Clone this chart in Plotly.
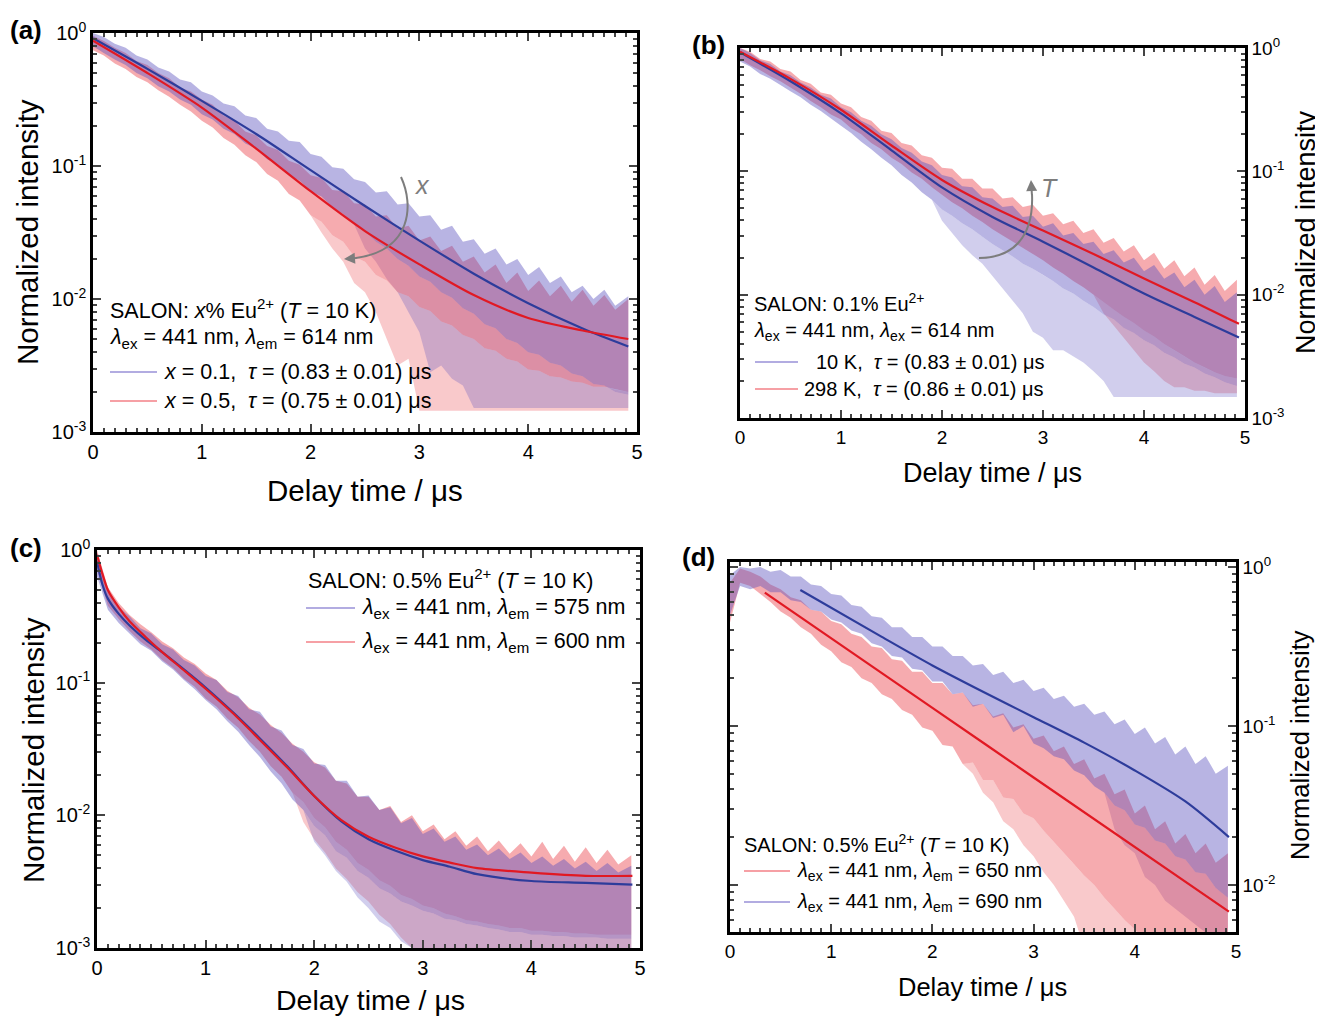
import plotly.graph_objects as go

# the page body adds an 8 px margin, so the figure is drawn 8 px smaller and
# every reference pixel position is shifted by that offset
OFF = 8
W, H = 1323 - OFF, 1018 - OFF
FONT = "Liberation Sans, Arial, sans-serif"

# ---- time grid of the measured decays (us) ----
T_GRID = [0.0, 0.1, 0.2, 0.3, 0.4, 0.5, 0.6, 0.7, 0.8, 0.9,
          1.0, 1.1, 1.2, 1.3, 1.4, 1.5, 1.6, 1.7, 1.8, 1.9,
          2.0, 2.1, 2.2, 2.3, 2.4, 2.5, 2.6, 2.7, 2.8, 2.9,
          3.0, 3.1, 3.2, 3.3, 3.4, 3.5, 3.6, 3.7, 3.8, 3.9,
          4.0, 4.1, 4.2, 4.3, 4.4, 4.5, 4.6, 4.7, 4.8, 4.92]

# noisy data, log10(intensity): upper edge (HI), lower edge of the dense part (LO),
# lower reach of the sparse spikes (SP)
# (a) x = 0.1 and x = 0.5
A_X01_HI = [0.00, -0.03, -0.08, -0.11, -0.17, -0.20, -0.26, -0.29, -0.35, -0.37,
            -0.44, -0.47, -0.53, -0.55, -0.62, -0.64, -0.72, -0.74, -0.81, -0.82,
            -0.91, -0.93, -1.01, -1.02, -1.10, -1.12, -1.20, -1.19, -1.29, -1.28,
            -1.38, -1.37, -1.48, -1.45, -1.57, -1.55, -1.66, -1.62, -1.74, -1.70,
            -1.82, -1.76, -1.88, -1.83, -1.95, -1.90, -2.00, -1.93, -2.05, -1.98]
A_X01_LO = [-0.10, -0.15, -0.20, -0.24, -0.30, -0.34, -0.40, -0.44, -0.50, -0.54,
            -0.61, -0.65, -0.72, -0.76, -0.83, -0.87, -0.95, -0.99, -1.07, -1.11,
            -1.19, -1.23, -1.31, -1.36, -1.44, -1.49, -1.57, -1.62, -1.70, -1.75,
            -1.83, -1.87, -1.95, -1.99, -2.07, -2.11, -2.19, -2.22, -2.30, -2.33,
            -2.40, -2.42, -2.48, -2.50, -2.56, -2.58, -2.64, -2.65, -2.70, -2.72]
A_X01_SP = [-0.10, -0.15, -0.20, -0.24, -0.30, -0.34, -0.40, -0.44, -0.50, -0.54,
            -0.61, -0.65, -0.72, -0.76, -0.83, -0.87, -0.95, -0.99, -1.07, -1.11,
            -1.19, -1.23, -1.31, -1.36, -1.44, -1.62, -1.72, -1.85, -1.95, -2.10,
            -2.25, -2.55, -2.50, -2.60, -2.65, -2.82, -2.82, -2.82, -2.82, -2.82,
            -2.82, -2.82, -2.82, -2.82, -2.82, -2.82, -2.82, -2.82, -2.82, -2.82]
A_X05_HI = [-0.02, -0.06, -0.11, -0.15, -0.21, -0.24, -0.30, -0.34, -0.41, -0.44,
            -0.50, -0.54, -0.62, -0.66, -0.74, -0.77, -0.85, -0.88, -0.96, -0.99,
            -1.07, -1.09, -1.18, -1.19, -1.28, -1.29, -1.38, -1.37, -1.47, -1.45,
            -1.56, -1.53, -1.64, -1.60, -1.72, -1.68, -1.80, -1.74, -1.88, -1.80,
            -1.94, -1.86, -1.98, -1.90, -2.02, -1.93, -2.05, -1.97, -2.08, -2.00]
A_X05_LO = [-0.13, -0.17, -0.23, -0.27, -0.33, -0.37, -0.43, -0.48, -0.54, -0.59,
            -0.66, -0.71, -0.79, -0.84, -0.92, -0.97, -1.06, -1.11, -1.21, -1.26,
            -1.37, -1.42, -1.52, -1.57, -1.68, -1.72, -1.82, -1.86, -1.95, -1.98,
            -2.06, -2.09, -2.17, -2.20, -2.27, -2.30, -2.37, -2.39, -2.45, -2.47,
            -2.53, -2.54, -2.58, -2.59, -2.62, -2.63, -2.66, -2.66, -2.68, -2.70]
A_X05_SP = [-0.13, -0.17, -0.23, -0.27, -0.33, -0.37, -0.43, -0.48, -0.54, -0.59,
            -0.66, -0.71, -0.79, -0.84, -0.92, -0.97, -1.06, -1.11, -1.21, -1.26,
            -1.37, -1.50, -1.62, -1.72, -1.88, -1.95, -2.10, -2.30, -2.50, -2.45,
            -2.84, -2.84, -2.84, -2.84, -2.84, -2.84, -2.84, -2.84, -2.84, -2.84,
            -2.84, -2.84, -2.84, -2.84, -2.84, -2.84, -2.84, -2.84, -2.84, -2.84]

# (b) 10 K and 298 K
B_10K_HI = [0.00, -0.04, -0.10, -0.13, -0.19, -0.22, -0.28, -0.32, -0.38, -0.41,
            -0.48, -0.52, -0.59, -0.63, -0.70, -0.74, -0.81, -0.85, -0.92, -0.95,
            -1.03, -1.05, -1.12, -1.13, -1.21, -1.22, -1.29, -1.28, -1.37, -1.36,
            -1.45, -1.42, -1.52, -1.50, -1.59, -1.57, -1.67, -1.64, -1.74, -1.70,
            -1.81, -1.76, -1.87, -1.82, -1.94, -1.88, -2.00, -1.93, -2.06, -1.98]
B_10K_LO = [-0.11, -0.15, -0.21, -0.25, -0.30, -0.35, -0.40, -0.46, -0.51, -0.57,
            -0.63, -0.69, -0.76, -0.82, -0.89, -0.95, -1.03, -1.09, -1.17, -1.23,
            -1.31, -1.36, -1.42, -1.47, -1.53, -1.59, -1.64, -1.69, -1.75, -1.79,
            -1.84, -1.89, -1.95, -1.99, -2.05, -2.10, -2.16, -2.20, -2.27, -2.31,
            -2.37, -2.41, -2.47, -2.51, -2.56, -2.59, -2.64, -2.67, -2.71, -2.74]
B_10K_SP = [-0.11, -0.15, -0.21, -0.25, -0.30, -0.35, -0.40, -0.46, -0.51, -0.57,
            -0.63, -0.69, -0.76, -0.82, -0.89, -0.95, -1.03, -1.09, -1.17, -1.23,
            -1.40, -1.50, -1.60, -1.68, -1.75, -1.85, -1.95, -2.05, -2.15, -2.30,
            -2.35, -2.45, -2.45, -2.50, -2.55, -2.62, -2.70, -2.83, -2.83, -2.83,
            -2.83, -2.83, -2.83, -2.83, -2.83, -2.83, -2.83, -2.83, -2.83, -2.83]
B_298K_HI = [0.00, -0.03, -0.09, -0.11, -0.17, -0.19, -0.26, -0.29, -0.36, -0.38,
             -0.45, -0.48, -0.56, -0.59, -0.67, -0.69, -0.77, -0.79, -0.87, -0.89,
             -0.97, -0.98, -1.06, -1.06, -1.14, -1.14, -1.22, -1.21, -1.29, -1.27,
             -1.36, -1.34, -1.43, -1.40, -1.50, -1.47, -1.58, -1.54, -1.65, -1.60,
             -1.72, -1.66, -1.79, -1.72, -1.85, -1.78, -1.92, -1.84, -1.97, -1.88]
B_298K_LO = [-0.09, -0.14, -0.18, -0.23, -0.27, -0.32, -0.37, -0.43, -0.48, -0.54,
             -0.58, -0.65, -0.70, -0.77, -0.82, -0.89, -0.94, -1.01, -1.06, -1.13,
             -1.19, -1.25, -1.30, -1.36, -1.41, -1.47, -1.52, -1.57, -1.62, -1.67,
             -1.72, -1.78, -1.83, -1.89, -1.94, -2.00, -2.06, -2.12, -2.18, -2.23,
             -2.29, -2.34, -2.40, -2.45, -2.50, -2.55, -2.59, -2.63, -2.66, -2.68]
B_298K_SP = [-0.09, -0.14, -0.18, -0.23, -0.27, -0.32, -0.37, -0.43, -0.48, -0.54,
             -0.58, -0.65, -0.70, -0.77, -0.82, -0.89, -0.94, -1.01, -1.06, -1.13,
             -1.19, -1.25, -1.30, -1.36, -1.41, -1.47, -1.52, -1.57, -1.62, -1.67,
             -1.72, -1.78, -1.83, -1.89, -1.94, -2.00, -2.15, -2.25, -2.35, -2.45,
             -2.55, -2.62, -2.70, -2.75, -2.75, -2.78, -2.78, -2.80, -2.80, -2.80]

# (c) em 575 nm and 600 nm
C_575_HI = [-0.02, -0.30, -0.43, -0.50, -0.59, -0.63, -0.71, -0.75, -0.83, -0.87,
            -0.95, -0.98, -1.07, -1.10, -1.20, -1.22, -1.33, -1.36, -1.47, -1.50,
            -1.61, -1.62, -1.74, -1.74, -1.86, -1.85, -1.96, -1.94, -2.06, -2.02,
            -2.14, -2.10, -2.20, -2.16, -2.26, -2.22, -2.30, -2.25, -2.33, -2.28,
            -2.36, -2.31, -2.38, -2.33, -2.40, -2.35, -2.42, -2.36, -2.43, -2.38]
C_575_LO = [-0.20, -0.45, -0.55, -0.63, -0.71, -0.76, -0.84, -0.90, -0.98, -1.05,
            -1.13, -1.20, -1.29, -1.37, -1.47, -1.56, -1.67, -1.76, -1.88, -1.96,
            -2.08, -2.15, -2.27, -2.32, -2.42, -2.47, -2.55, -2.59, -2.65, -2.68,
            -2.72, -2.74, -2.78, -2.79, -2.82, -2.83, -2.85, -2.86, -2.88, -2.88,
            -2.90, -2.90, -2.91, -2.91, -2.92, -2.92, -2.92, -2.93, -2.93, -2.93]
C_575_SP = [-0.20, -0.45, -0.55, -0.63, -0.71, -0.76, -0.84, -0.90, -0.98, -1.05,
            -1.13, -1.20, -1.29, -1.37, -1.47, -1.56, -1.67, -1.76, -1.88, -1.96,
            -2.20, -2.30, -2.42, -2.50, -2.62, -2.70, -2.80, -2.85, -2.95, -3.00,
            -3.10, -3.10, -3.10, -3.10, -3.10, -3.10, -3.10, -3.10, -3.10, -3.10,
            -3.10, -3.10, -3.10, -3.10, -3.10, -3.10, -3.10, -3.10, -3.10, -3.10]
C_600_HI = [0.00, -0.28, -0.40, -0.49, -0.56, -0.62, -0.69, -0.74, -0.81, -0.86,
            -0.93, -0.98, -1.06, -1.11, -1.19, -1.24, -1.32, -1.38, -1.46, -1.52,
            -1.60, -1.64, -1.74, -1.76, -1.86, -1.86, -1.96, -1.93, -2.05, -2.00,
            -2.12, -2.07, -2.18, -2.12, -2.23, -2.16, -2.27, -2.19, -2.29, -2.21,
            -2.31, -2.20, -2.33, -2.23, -2.35, -2.24, -2.36, -2.26, -2.37, -2.30]
C_600_LO = [-0.15, -0.42, -0.52, -0.61, -0.69, -0.75, -0.83, -0.89, -0.97, -1.03,
            -1.12, -1.18, -1.27, -1.34, -1.44, -1.52, -1.63, -1.71, -1.83, -1.90,
            -2.02, -2.09, -2.20, -2.26, -2.36, -2.41, -2.49, -2.53, -2.60, -2.63,
            -2.68, -2.70, -2.74, -2.76, -2.79, -2.80, -2.82, -2.83, -2.85, -2.85,
            -2.87, -2.87, -2.88, -2.88, -2.89, -2.89, -2.90, -2.90, -2.90, -2.90]
C_600_SP = [-0.15, -0.42, -0.52, -0.61, -0.69, -0.75, -0.83, -0.89, -0.97, -1.03,
            -1.12, -1.18, -1.27, -1.34, -1.44, -1.52, -1.63, -1.71, -1.83, -2.05,
            -2.18, -2.28, -2.40, -2.48, -2.58, -2.65, -2.75, -2.82, -2.92, -3.00,
            -3.10, -3.10, -3.10, -3.10, -3.10, -3.10, -3.10, -3.10, -3.10, -3.10,
            -3.10, -3.10, -3.10, -3.10, -3.10, -3.10, -3.10, -3.10, -3.10, -3.10]

# (d) em 650 nm and 690 nm
D_650_HI = [-0.10, -0.01, -0.03, -0.06, -0.11, -0.14, -0.19, -0.21, -0.27, -0.28,
            -0.34, -0.36, -0.42, -0.44, -0.50, -0.51, -0.58, -0.59, -0.66, -0.66,
            -0.73, -0.73, -0.80, -0.79, -0.87, -0.86, -0.94, -0.92, -1.01, -0.99,
            -1.08, -1.06, -1.16, -1.13, -1.24, -1.21, -1.33, -1.30, -1.43, -1.40,
            -1.55, -1.50, -1.65, -1.60, -1.74, -1.68, -1.80, -1.74, -1.86, -1.80]
D_650_LO = [-0.35, -0.10, -0.12, -0.17, -0.22, -0.28, -0.32, -0.38, -0.42, -0.49,
            -0.53, -0.60, -0.63, -0.70, -0.73, -0.80, -0.83, -0.90, -0.93, -1.01,
            -1.03, -1.12, -1.13, -1.24, -1.23, -1.34, -1.34, -1.45, -1.46, -1.55,
            -1.58, -1.66, -1.73, -1.80, -1.87, -1.94, -2.00, -2.08, -2.15, -2.22,
            -2.28, -2.34, -2.40, -2.40, -2.40, -2.40, -2.40, -2.40, -2.40, -2.40]
D_650_SP = [-0.35, -0.10, -0.12, -0.17, -0.22, -0.28, -0.32, -0.38, -0.42, -0.49,
            -0.53, -0.60, -0.63, -0.70, -0.73, -0.80, -0.83, -0.90, -0.93, -1.01,
            -1.03, -1.12, -1.13, -1.24, -1.30, -1.42, -1.48, -1.60, -1.65, -1.75,
            -1.82, -1.92, -2.00, -2.10, -2.20, -2.40, -2.40, -2.40, -2.40, -2.40,
            -2.40, -2.40, -2.40, -2.40, -2.40, -2.40, -2.40, -2.40, -2.40, -2.40]
D_690_HI = [-0.05, 0.00, -0.01, 0.00, -0.03, -0.02, -0.06, -0.06, -0.11, -0.12,
            -0.17, -0.18, -0.24, -0.25, -0.31, -0.32, -0.38, -0.38, -0.44, -0.44,
            -0.50, -0.50, -0.56, -0.56, -0.62, -0.61, -0.68, -0.66, -0.73, -0.71,
            -0.78, -0.76, -0.83, -0.81, -0.88, -0.86, -0.93, -0.91, -0.99, -0.96,
            -1.05, -1.01, -1.11, -1.07, -1.18, -1.13, -1.24, -1.19, -1.30, -1.25]
D_690_LO = [-0.30, -0.12, -0.14, -0.12, -0.16, -0.16, -0.21, -0.22, -0.27, -0.28,
            -0.33, -0.35, -0.40, -0.42, -0.48, -0.50, -0.56, -0.57, -0.64, -0.65,
            -0.72, -0.72, -0.80, -0.79, -0.88, -0.86, -0.95, -0.93, -1.04, -1.00,
            -1.11, -1.14, -1.19, -1.21, -1.28, -1.31, -1.38, -1.42, -1.50, -1.53,
            -1.62, -1.64, -1.72, -1.74, -1.82, -1.84, -1.92, -1.93, -2.02, -2.08]
D_690_SP = [-0.30, -0.12, -0.14, -0.12, -0.16, -0.16, -0.21, -0.22, -0.27, -0.28,
            -0.33, -0.35, -0.40, -0.42, -0.48, -0.50, -0.56, -0.57, -0.64, -0.65,
            -0.72, -0.72, -0.80, -0.79, -0.88, -0.86, -0.95, -0.93, -1.04, -1.00,
            -1.11, -1.14, -1.19, -1.21, -1.28, -1.31, -1.38, -1.42, -1.65, -1.75,
            -1.80, -1.95, -2.00, -2.10, -2.15, -2.20, -2.25, -2.30, -2.35, -2.40]

# ---- fitted curves (normalized intensity) ----
A_FIT_T = [0, 0.5, 1, 1.5, 2, 2.5, 3, 3.5, 4, 4.5, 4.92]
A_FIT_X01 = [0.912, 0.537, 0.309, 0.174, 0.093, 0.050, 0.0275, 0.0155, 0.0093, 0.0060, 0.0044]
A_FIT_X05 = [0.875, 0.50, 0.275, 0.135, 0.0646, 0.0324, 0.0182, 0.0107, 0.0072, 0.0058, 0.0050]

B_FIT_T = [0, 0.5, 1, 1.5, 2, 2.5, 3, 3.5, 4, 4.5, 4.94]
B_FIT_10K = [0.923, 0.537, 0.295, 0.148, 0.0741, 0.0427, 0.0269, 0.0166, 0.0102, 0.0066, 0.0045]
B_FIT_298K = [0.933, 0.562, 0.316, 0.162, 0.0851, 0.0513, 0.0331, 0.0214, 0.0135, 0.0087, 0.0058]

C_FIT_T = [0, 0.05, 0.1, 0.2, 0.3, 0.45, 0.6, 0.8, 1.0, 1.25, 1.5, 1.75, 2.0, 2.25,
           2.5, 2.75, 3.0, 3.25, 3.5, 4.0, 4.5, 4.93]
C_FIT_575 = [0.82, 0.55, 0.43, 0.33, 0.27, 0.21, 0.17, 0.126, 0.092, 0.060, 0.038, 0.0235,
             0.0140, 0.0090, 0.0066, 0.0054, 0.0046, 0.0041, 0.0036, 0.0032, 0.0031, 0.0030]
C_FIT_600 = [0.92, 0.66, 0.50, 0.37, 0.29, 0.22, 0.17, 0.124, 0.090, 0.059, 0.037, 0.023,
             0.0140, 0.0092, 0.0069, 0.0057, 0.0049, 0.0044, 0.0040, 0.0037, 0.0035, 0.0035]

D_FIT_650_T = [0.344, 2.0, 3.0, 4.93]
D_FIT_650 = [0.69, 0.130, 0.0474, 0.0068]
D_FIT_690_T = [0.695, 1.5, 2.0, 2.5, 3.0, 3.5, 4.0, 4.5, 4.93]
D_FIT_690 = [0.716, 0.363, 0.240, 0.164, 0.1135, 0.0785, 0.0525, 0.0335, 0.020]

# colours
BLUE_FILL = "rgba(90,80,190,0.43)"
RED_FILL = "rgba(235,60,70,0.43)"
BLUE_SPIKE = "rgba(90,80,190,0.28)"
RED_SPIKE = "rgba(235,60,70,0.28)"
BLUE_FIT = "rgb(45,60,155)"
RED_FIT = "rgb(225,25,35)"
BLUE_KEY = "rgb(178,172,225)"
RED_KEY = "rgb(246,160,165)"
GREY = "rgb(125,125,125)"


def fx(p):
    return (p - OFF) / W


def fy(p):
    return 1 - (p - OFF) / H


# frame boxes in reference pixels: left, right, top, bottom
PANELS = [
    dict(box=(93, 637, 33, 432), yr=(-3, 0), side="left", tick=20),
    dict(box=(740, 1245, 48, 418), yr=(-3, 0), side="right", tick=19),
    dict(box=(97, 640, 550, 948), yr=(-3, 0), side="left", tick=20),
    dict(box=(730, 1236, 562, 932), yr=(-2.296, 0.031), side="right", tick=19),
]

MINOR_Y = [m * 10.0 ** e for e in (-4, -3, -2, -1) for m in range(2, 10)]

fig = go.Figure()


def ax_names(i):
    return ("x" if i == 0 else f"x{i+1}"), ("y" if i == 0 else f"y{i+1}")


def add_band(i, hi, lo, fill):
    xa, ya = ax_names(i)
    xs = T_GRID + T_GRID[::-1]
    ys = [10 ** v for v in hi] + [10 ** v for v in lo][::-1]
    fig.add_trace(go.Scatter(x=xs, y=ys, mode="lines", fill="toself", fillcolor=fill,
                             line=dict(width=0, color="rgba(0,0,0,0)"),
                             hoverinfo="skip", showlegend=False, xaxis=xa, yaxis=ya))


def add_fit(i, t, v, color):
    xa, ya = ax_names(i)
    fig.add_trace(go.Scatter(x=t, y=v, mode="lines",
                             line=dict(color=color, width=2.2, shape="spline", smoothing=0.8),
                             hoverinfo="skip", showlegend=False, xaxis=xa, yaxis=ya))


def add_panel(i, red, blue, fits):
    # sparse spikes (below the dense part), dense part, then the fits
    add_band(i, red[1], red[2], RED_SPIKE)
    add_band(i, blue[1], blue[2], BLUE_SPIKE)
    add_band(i, red[0], red[1], RED_FILL)
    add_band(i, blue[0], blue[1], BLUE_FILL)
    for t, v, c in fits:
        add_fit(i, t, v, c)


add_panel(0, (A_X05_HI, A_X05_LO, A_X05_SP), (A_X01_HI, A_X01_LO, A_X01_SP),
          [(A_FIT_T, A_FIT_X01, BLUE_FIT), (A_FIT_T, A_FIT_X05, RED_FIT)])
add_panel(1, (B_298K_HI, B_298K_LO, B_298K_SP), (B_10K_HI, B_10K_LO, B_10K_SP),
          [(B_FIT_T, B_FIT_10K, BLUE_FIT), (B_FIT_T, B_FIT_298K, RED_FIT)])
add_panel(2, (C_600_HI, C_600_LO, C_600_SP), (C_575_HI, C_575_LO, C_575_SP),
          [(C_FIT_T, C_FIT_575, BLUE_FIT), (C_FIT_T, C_FIT_600, RED_FIT)])
add_panel(3, (D_650_HI, D_650_LO, D_650_SP), (D_690_HI, D_690_LO, D_690_SP),
          [(D_FIT_690_T, D_FIT_690, BLUE_FIT), (D_FIT_650_T, D_FIT_650, RED_FIT)])

layout = dict(width=W, height=H, margin=dict(l=0, r=0, t=0, b=0),
              paper_bgcolor="white", plot_bgcolor="white", showlegend=False,
              font=dict(family=FONT, color="black"))

for i, p in enumerate(PANELS):
    l, r, t, b = p["box"]
    xa, ya = ax_names(i)
    xkey = "xaxis" if i == 0 else f"xaxis{i+1}"
    ykey = "yaxis" if i == 0 else f"yaxis{i+1}"
    common = dict(ticks="inside", ticklen=8, tickwidth=2, showline=True, linewidth=2.5,
                  linecolor="black", mirror="allticks", showgrid=False, zeroline=False,
                  automargin=False,
                  tickfont=dict(size=p["tick"], family=FONT, color="black"))
    layout[xkey] = dict(domain=[fx(l), fx(r)], anchor=ya, range=[0, 5],
                        tickvals=[0, 1, 2, 3, 4, 5],
                        minor=dict(dtick=0.1, tick0=0, ticks="inside", ticklen=4,
                                   tickwidth=1.5, showgrid=False),
                        **common)
    if p["yr"][0] < -2.5:
        tv = [0.001, 0.01, 0.1, 1]
        tt = ["10<sup>-3</sup>", "10<sup>-2</sup>", "10<sup>-1</sup>", "10<sup>0</sup>"]
    else:
        tv = [0.01, 0.1, 1]
        tt = ["10<sup>-2</sup>", "10<sup>-1</sup>", "10<sup>0</sup>"]
    layout[ykey] = dict(domain=[fy(b), fy(t)], anchor=xa, type="log", range=list(p["yr"]),
                        tickvals=tv, ticktext=tt, side=p["side"],
                        minor=dict(tickmode="array", tickvals=MINOR_Y, ticks="inside",
                                   ticklen=4, tickwidth=1.5, showgrid=False),
                        **common)

ann = []
shapes = []


def text(x, y, s, size=20, anchor="left", color="black", angle=0):
    ann.append(dict(x=fx(x), y=fy(y), xref="paper", yref="paper", text=s, showarrow=False,
                    xanchor=anchor, yanchor="middle", textangle=angle,
                    font=dict(size=size, family=FONT, color=color)))


def key(x0, x1, y, color):
    shapes.append(dict(type="line", xref="paper", yref="paper", x0=fx(x0), x1=fx(x1),
                       y0=fy(y), y1=fy(y), line=dict(color=color, width=2)))


LAM = "<i>\u03bb</i>"
TAU = "<i>\u03c4</i>"

# panel letters
text(8, 30, "<b>(a)</b>", 26)
text(690, 45, "<b>(b)</b>", 26)
text(8, 548, "<b>(c)</b>", 26)
text(680, 557, "<b>(d)</b>", 26)

# axis titles
text(365, 490, "Delay time / \u03bcs", 29.5, "center")
text(28, 232, "Normalized intensity", 29.5, "center", angle=-90)
text(992, 473, "Delay time / \u03bcs", 27, "center")
text(1306, 232, "Normalized intensity", 27, "center", angle=-90)
text(370, 1000, "Delay time / \u03bcs", 28.5, "center")
text(33, 750, "Normalized intensity", 29.5, "center", angle=-90)
text(982, 987, "Delay time / \u03bcs", 25.5, "center")
text(1300, 745, "Normalized intensity", 25.5, "center", angle=-90)

# (a) legend
text(108, 309, "SALON: <i>x</i>% Eu<sup>2+</sup> (<i>T</i> = 10 K)", 21.5)
text(108, 338, f"{LAM}<sub>ex</sub> = 441 nm, {LAM}<sub>em</sub> = 614 nm", 21.5)
key(110, 157, 372, BLUE_KEY)
text(162, 372, f"<i>x</i> = 0.1,  {TAU} = (0.83 \u00b1 0.01) \u03bcs", 21.5)
key(110, 157, 401, RED_KEY)
text(162, 401, f"<i>x</i> = 0.5,  {TAU} = (0.75 \u00b1 0.01) \u03bcs", 21.5)

# (b) legend
text(752, 302, "SALON: 0.1% Eu<sup>2+</sup>", 20)
text(752, 331, f"{LAM}<sub>ex</sub> = 441 nm, {LAM}<sub>ex</sub> = 614 nm", 20)
key(755, 798, 362, BLUE_KEY)
text(814, 362, f"10 K,  {TAU} = (0.83 \u00b1 0.01) \u03bcs", 20)
key(755, 798, 389, RED_KEY)
text(802, 389, f"298 K,  {TAU} = (0.86 \u00b1 0.01) \u03bcs", 20)

# (c) legend
text(306, 579, "SALON: 0.5% Eu<sup>2+</sup> (<i>T</i> = 10 K)", 21.5)
key(306, 355, 608, BLUE_KEY)
text(360, 608, f"{LAM}<sub>ex</sub> = 441 nm, {LAM}<sub>em</sub> = 575 nm", 21.5)
key(306, 355, 642, RED_KEY)
text(360, 642, f"{LAM}<sub>ex</sub> = 441 nm, {LAM}<sub>em</sub> = 600 nm", 21.5)

# (d) legend
text(742, 843, "SALON: 0.5% Eu<sup>2+</sup> (<i>T</i> = 10 K)", 20)
key(744, 790, 871, RED_KEY)
text(795, 871, f"{LAM}<sub>ex</sub> = 441 nm, {LAM}<sub>em</sub> = 650 nm", 20)
key(744, 790, 902, BLUE_KEY)
text(795, 902, f"{LAM}<sub>ex</sub> = 441 nm, {LAM}<sub>em</sub> = 690 nm", 20)

# trend arrows
shapes.append(dict(type="path", xref="paper", yref="paper",
                   path=f"M {fx(401)},{fy(177)} C {fx(414)},{fy(205)} {fx(412)},{fy(250)} {fx(356)},{fy(258)}",
                   line=dict(color=GREY, width=2)))
ann.append(dict(x=fx(344), y=fy(259), xref="paper", yref="paper", text="", showarrow=True,
                ax=14, ay=-1, arrowhead=2, arrowsize=1.1, arrowwidth=2, arrowcolor=GREY))
text(422, 185, "<i>x</i>", 25, "center", GREY)

shapes.append(dict(type="path", xref="paper", yref="paper",
                   path=f"M {fx(979)},{fy(258)} C {fx(1012)},{fy(258)} {fx(1034)},{fy(238)} {fx(1032)},{fy(194)}",
                   line=dict(color=GREY, width=2)))
ann.append(dict(x=fx(1031), y=fy(180), xref="paper", yref="paper", text="", showarrow=True,
                ax=1, ay=16, arrowhead=2, arrowsize=1.1, arrowwidth=2, arrowcolor=GREY))
text(1049, 188, "<i>T</i>", 25, "center", GREY)

layout["annotations"] = ann
layout["shapes"] = shapes
fig.update_layout(**layout)

fig.write_html("out.html")
